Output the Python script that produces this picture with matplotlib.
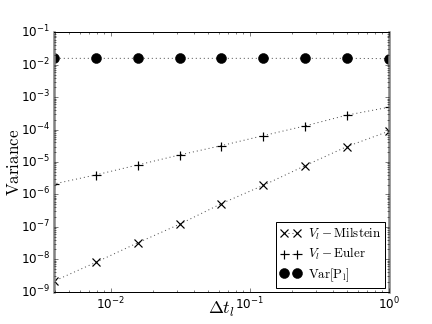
import numpy as np
import matplotlib
matplotlib.use("Agg")
import matplotlib.pyplot as plt
from matplotlib.font_manager import FontProperties

plt.style.use('classic')

# time steps dt_l = 2^-l
dt = [1.0, 0.5, 0.25, 0.125, 0.0625, 0.03125, 0.015625, 0.0078125, 0.00390625]

var_milstein = [8.9e-5, 3.0e-5, 7.7e-6, 1.9e-6, 5.2e-7, 1.2e-7, 3.2e-8, 8.0e-9, 2.1e-9]
var_euler = [4.9e-4, 2.8e-4, 1.3e-4, 6.5e-5, 3.2e-5, 1.65e-5, 8.1e-6, 4.0e-6, 2.1e-6]
var_p = [0.0155, 0.0158, 0.0158, 0.0158, 0.0158, 0.0158, 0.0158, 0.0158, 0.0158]

fig = plt.figure(figsize=(6, 4.5), dpi=72, facecolor='white')
ax = fig.add_axes([0.125, 0.1, 0.775, 0.8])

ax.loglog(dt, var_milstein, 'kx:', ms=8, mew=1.2, lw=1, color='0.3', mec='k', label=r'$V_l - \mathrm{Milstein}$')
ax.loglog(dt, var_euler, 'k+:', ms=9, mew=1.2, lw=1, color='0.3', mec='k', label=r'$V_l - \mathrm{Euler}$')
ax.loglog(dt, var_p, 'ko:', ms=10, lw=1, color='0.3', mec='k', mfc='k', label=r'$\mathrm{Var[P_l]}$')

ax.set_xlim(2 ** -8, 1)
ax.set_ylim(1e-9, 1e-1)

for side in ['left', 'right']:
    ax.spines[side].set_color('gray')
    ax.spines[side].set_linewidth(2.5)

ax.tick_params(labelsize=12)
ax.set_xlabel(r'$\Delta t_l$', fontsize=18, math_fontfamily='cm', labelpad=-12)
ax.set_ylabel(r'$\mathrm{Variance}$', fontsize=17, math_fontfamily='cm', labelpad=-2)

leg = ax.legend(loc='lower right', numpoints=2, fancybox=False,
                prop=FontProperties(size=13, math_fontfamily='cm'),
                handlelength=1.6, handletextpad=0.5, borderpad=0.3, labelspacing=0.3,
                borderaxespad=0.3)
leg.get_frame().set_edgecolor('black')

fig.savefig('out.png', dpi=72, facecolor='white')
